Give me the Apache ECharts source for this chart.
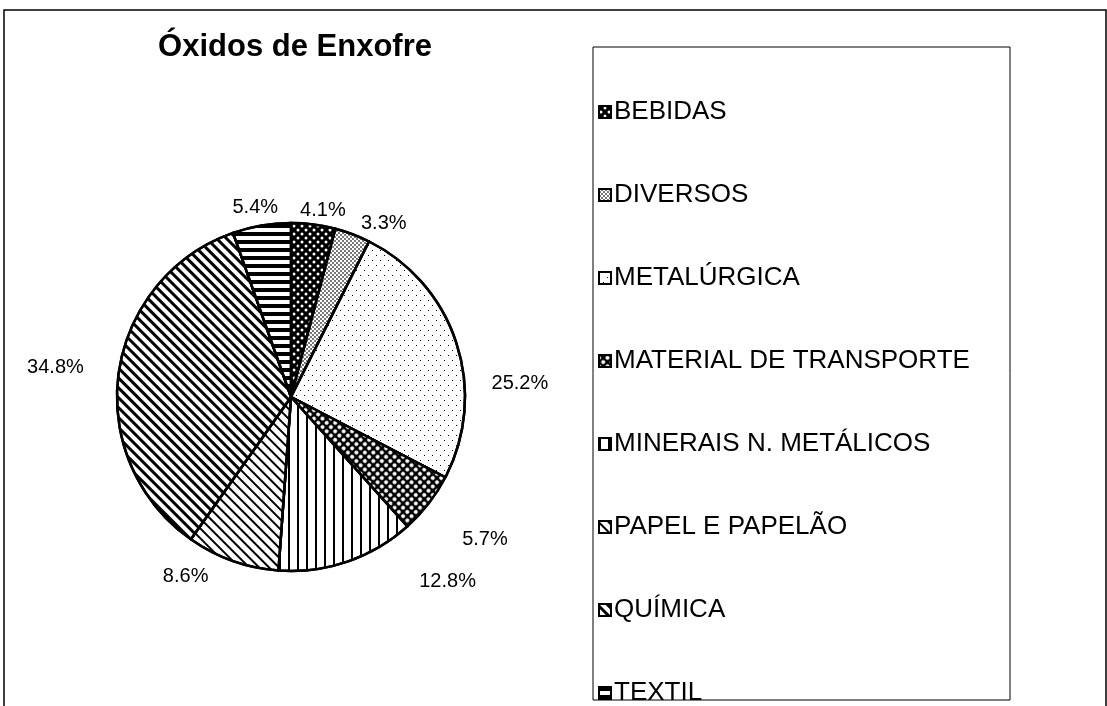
<!DOCTYPE html>
<html>
<head>
<meta charset="utf-8">
<script src="https://cdn.jsdelivr.net/npm/echarts@6/dist/echarts.min.js"></script>
<style>
    html, body { margin: 0; padding: 0; background: #fff; }
    #chart { width: 1107px; height: 706px; }
</style>
</head>
<body>
<div id="chart"></div>
<script>
'use strict';

const categories = [
    'BEBIDAS',
    'DIVERSOS',
    'METALÚRGICA',
    'MATERIAL DE TRANSPORTE',
    'MINERAIS N. METÁLICOS',
    'PAPEL E PAPELÃO',
    'QUÍMICA',
    'TEXTIL',
];
const shares = [4.1, 3.3, 25.2, 5.7, 12.8, 8.6, 34.8, 5.4];

// small nudges so the percent labels sit where the original put them
const labelNudge = [[-21, 7], [-4, 9], [10, 47], [12, 23], [60, 0], [-12, -4], [-9, -3], [25, 3]];

// black & white hatch patterns, one per slice (same order as categories)
const patterns = [
    { fill: '#000', decal: { symbol: 'circle', color: '#fff', symbolSize: 0.75, dashArrayX: [[4, 4], [0, 4, 4, 0]], dashArrayY: [4, 0] } },
    { fill: '#fff', decal: { symbol: 'rect', color: '#000', symbolSize: 0.7, dashArrayX: [[2, 2], [0, 2, 2, 0]], dashArrayY: [2, 0] } },
    { fill: '#fff', decal: { symbol: 'rect', color: '#000', symbolSize: 1, dashArrayX: [[1, 7], [0, 4, 1, 3]], dashArrayY: [1, 4] } },
    { fill: '#000', decal: { symbol: 'circle', color: '#fff', symbolSize: 1, dashArrayX: [4, 2], dashArrayY: [4, 2], rotation: Math.PI / 4 } },
    { fill: '#fff', decal: { symbol: 'rect', color: '#000', symbolSize: 1, dashArrayX: [2, 7], dashArrayY: [1, 0] } },
    { fill: '#fff', decal: { symbol: 'rect', color: '#000', symbolSize: 1, dashArrayX: [1, 0], dashArrayY: [2, 5], rotation: Math.PI / 4 } },
    { fill: '#fff', decal: { symbol: 'rect', color: '#000', symbolSize: 1, dashArrayX: [1, 0], dashArrayY: [3, 4], rotation: Math.PI / 4 } },
    { fill: '#fff', decal: { symbol: 'rect', color: '#000', symbolSize: 1, dashArrayX: [1, 0], dashArrayY: [4, 4] } },
];

const font = '"Liberation Sans", Arial, sans-serif';

document.addEventListener('DOMContentLoaded', () => {
    const chart = echarts.init(document.getElementById('chart'));

    const pieData = categories.map((name, i) => ({
        name: name,
        value: shares[i],
        itemStyle: { color: patterns[i].fill, decal: patterns[i].decal },
        label: { offset: labelNudge[i] },
    }));

    chart.setOption({
        animation: false,
        backgroundColor: '#fff',
        title: {
            text: 'Óxidos de Enxofre',
            left: 290,
            top: 27,
            textAlign: 'center',
            textStyle: { fontFamily: font, fontWeight: 'bold', fontSize: 31, color: '#000' },
        },
        legend: {
            orient: 'vertical',
            left: 598,
            top: 99,
            height: 620,
            padding: 0,
            itemWidth: 12,
            itemHeight: 12,
            itemGap: 57,
            icon: 'rect',
            selectedMode: false,
            textStyle: { fontFamily: font, fontSize: 26, lineHeight: 26, color: '#000', padding: [0, 0, 0, -2] },
        },
        graphic: [
            { type: 'rect', shape: { x: 4, y: 10, width: 1102, height: 710 }, style: { fill: null, stroke: '#000', lineWidth: 1.5 }, silent: true },
            { type: 'rect', shape: { x: 593, y: 47, width: 417, height: 653 }, style: { fill: null, stroke: '#000', lineWidth: 1 }, silent: true },
        ],
        series: [{
            type: 'pie',
            center: [291, 397],
            radius: 174,
            startAngle: 90,
            clockwise: true,
            avoidLabelOverlap: false,
            data: pieData,
            itemStyle: { borderColor: '#000', borderWidth: 2.5 },
            label: {
                show: true,
                position: 'outside',
                fontFamily: font,
                fontSize: 20,
                color: '#000',
                formatter: (p) => p.value.toFixed(1) + '%',
            },
            labelLine: { show: false, length: 21, length2: 0 },
            labelLayout: { hideOverlap: false },
            emphasis: { disabled: true },
        }],
    });
});
</script>
</body>
</html>
